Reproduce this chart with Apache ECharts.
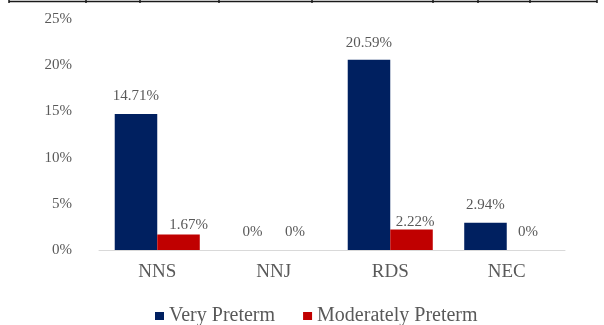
<!DOCTYPE html>
<html>
<head>
<meta charset="utf-8">
<script src="https://cdn.jsdelivr.net/npm/echarts@6/dist/echarts.min.js"></script>
<style>
  html, body { margin: 0; padding: 0; background: #ffffff; }
  #chart { width: 604px; height: 325px; }
</style>
</head>
<body>
<div id="chart"></div>
<script>
// Complication rates by gestational group (percent)
const categories = ['NNS', 'NNJ', 'RDS', 'NEC'];
const veryPreterm = [14.71, 0, 20.59, 2.94];
const moderatelyPreterm = [1.67, 0, 2.22, 0];
const seriesNames = ['Very Preterm', 'Moderately Preterm'];
const yTicks = [0, 5, 10, 15, 20, 25];

const FONT = '"Liberation Serif", "Times New Roman", serif';
const TEXT = '#595959';
const BLUE = '#002060';
const RED = '#C00000';

// Per-bar label tweaks (distance above bar, horizontal nudge)
const blueLabelDist = [11, 10, 9.5, 10];
const redLabelDist = [2, 10, 0, 10];
const redLabelDx = [10, 0, 3.5, 0];

function fmt(v) { return v + '%'; }

const chart = echarts.init(document.getElementById('chart'), null, { renderer: 'canvas' });

// Table rule running across the top edge
const ruleXs = [9, 86, 140, 219, 312, 433, 478, 530, 597];
const graphics = [{
  type: 'line',
  shape: { x1: 9, y1: 1.5, x2: 597, y2: 1.5 },
  style: { stroke: '#1a1a1a', lineWidth: 1.6 },
  silent: true
}];
ruleXs.forEach(function (x) {
  graphics.push({
    type: 'line',
    shape: { x1: x, y1: 0, x2: x, y2: 3 },
    style: { stroke: '#1a1a1a', lineWidth: 1.5 },
    silent: true
  });
});

chart.setOption({
  animation: false,
  backgroundColor: '#ffffff',
  textStyle: { fontFamily: FONT, color: TEXT },
  graphic: graphics,
  grid: { left: 99, right: 39, top: 19, bottom: 75, containLabel: false },
  legend: {
    data: seriesNames,
    left: 150,
    top: 301,
    icon: 'rect',
    itemWidth: 9,
    itemHeight: 8,
    itemGap: 28,
    textStyle: { fontFamily: FONT, fontSize: 20, color: TEXT, padding: [0, 0, 0, 0] }
  },
  xAxis: {
    type: 'category',
    data: categories,
    axisLine: { show: true, lineStyle: { color: '#d9d9d9', width: 1 } },
    axisTick: { show: false },
    axisLabel: { fontFamily: FONT, fontSize: 19, color: TEXT, margin: 13 },
    splitLine: { show: false }
  },
  yAxis: {
    type: 'value',
    min: yTicks[0],
    max: yTicks[yTicks.length - 1],
    interval: yTicks[1] - yTicks[0],
    axisLine: { show: false },
    axisTick: { show: false },
    splitLine: { show: false },
    axisLabel: { fontFamily: FONT, fontSize: 15, color: TEXT, margin: 27, formatter: fmt }
  },
  series: [
    {
      name: seriesNames[0],
      type: 'bar',
      barGap: '0%',
      barCategoryGap: '27%',
      itemStyle: { color: BLUE },
      data: veryPreterm.map(function (v, i) {
        return { value: v, label: { distance: blueLabelDist[i] } };
      }),
      label: {
        show: true, position: 'top',
        fontFamily: FONT, fontSize: 15, color: TEXT,
        formatter: function (p) { return fmt(p.value); }
      }
    },
    {
      name: seriesNames[1],
      type: 'bar',
      barGap: '0%',
      barCategoryGap: '27%',
      itemStyle: { color: RED },
      data: moderatelyPreterm.map(function (v, i) {
        return { value: v, label: { distance: redLabelDist[i], offset: [redLabelDx[i], 0] } };
      }),
      label: {
        show: true, position: 'top',
        fontFamily: FONT, fontSize: 15, color: TEXT,
        formatter: function (p) { return fmt(p.value); }
      }
    }
  ]
});
</script>
</body>
</html>
